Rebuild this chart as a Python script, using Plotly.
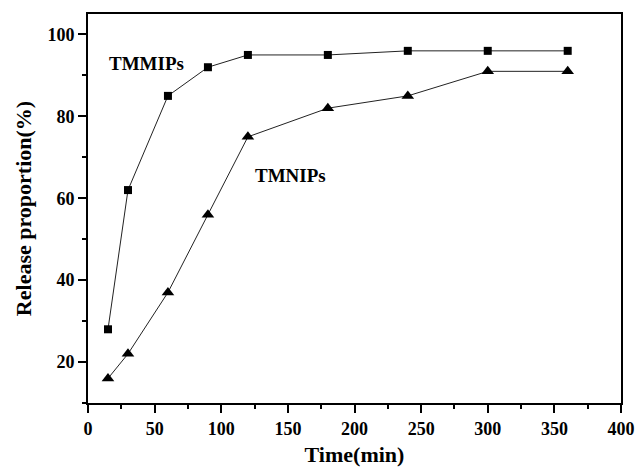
import plotly.graph_objects as go

time_min = [15, 30, 60, 90, 120, 180, 240, 300, 360]
tmmips = [28, 62, 85, 92, 95, 95, 96, 96, 96]
tmnips = [16, 22, 37, 56, 75, 82, 85, 91, 91]
x_ticks = [0, 50, 100, 150, 200, 250, 300, 350, 400]
y_ticks = [20, 40, 60, 80, 100]

font_family = "Liberation Serif, Times New Roman, serif"

fig = go.Figure()
fig.add_trace(go.Scatter(x=time_min, y=tmmips, mode="lines+markers", name="TMMIPs",
                         line=dict(color="#222222", width=1),
                         marker=dict(symbol="square", size=8, color="black")))
fig.add_trace(go.Scatter(x=time_min, y=tmnips, mode="lines+markers", name="TMNIPs",
                         line=dict(color="#222222", width=1),
                         marker=dict(symbol="triangle-up", size=11, color="black")))

fig.add_annotation(x=44, y=93, text="TMMIPs", showarrow=False,
                   font=dict(family=font_family, size=19, color="black", weight="bold"))
fig.add_annotation(x=152.3, y=65.6, text="TMNIPs", showarrow=False,
                   font=dict(family=font_family, size=19, color="black", weight="bold"))

axis_common = dict(showline=True, linecolor="black", linewidth=2, mirror=True,
                   ticks="outside", ticklen=8, tickwidth=2, tickcolor="black",
                   showgrid=False, zeroline=False, automargin=False,
                   tickfont=dict(family=font_family, size=18, color="black", weight="bold"))

fig.update_xaxes(range=[0, 400], tickvals=x_ticks, ticktext=[str(v) for v in x_ticks],
                 minor=dict(ticks="outside", ticklen=4, tickwidth=2, tickcolor="black", dtick=25, tick0=0),
                 title=dict(text="Time(min)", font=dict(family=font_family, size=22, color="black", weight="bold"), standoff=9),
                 **axis_common)
fig.update_yaxes(range=[10, 105], tickvals=y_ticks, ticktext=[str(v) for v in y_ticks],
                 minor=dict(ticks="outside", ticklen=4, tickwidth=2, tickcolor="black", dtick=10, tick0=0),
                 title=dict(text="Release proportion(%)", font=dict(family=font_family, size=22, color="black", weight="bold"), standoff=10),
                 **axis_common)

fig.update_layout(width=637, height=467, margin=dict(l=88, r=16, t=14, b=64),
                  plot_bgcolor="white", paper_bgcolor="white", showlegend=False)

fig.write_html("out.html", config={"displayModeBar": False},
               post_script="document.body.style.margin='0';document.body.style.overflow='hidden';")
